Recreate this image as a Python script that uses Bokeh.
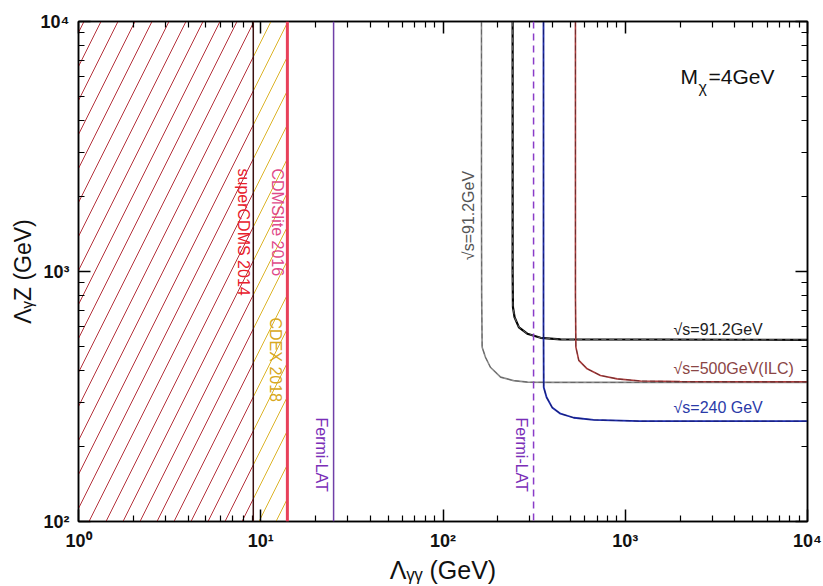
import math
from bokeh.plotting import figure
from bokeh.models import LogAxis, Range1d, FixedTicker, Span
from bokeh.embed import file_html
from bokeh.resources import INLINE
from bokeh.core.properties import value

# ---------------- data ----------------
x_ticks = [1, 10, 100, 1000, 10000]
x_tick_labels = ["10\u2070", "10\u00b9", "10\u00b2", "10\u00b3", "10\u2074"]
y_ticks = [100, 1000, 10000]
y_tick_labels = ["10\u00b2", "10\u00b3", "10\u2074"]
x_title = "\u039b\u1d67\u1d67 (GeV)"
y_title = "\u039b\u1d67Z (GeV)"

# direct-detection / indirect limits on Lambda_gg (GeV)
supercdms_2014 = 9.1
cdex_2018 = 14.0
cdmslite_2016 = 14.0
fermi_lat = 25.1
fermi_lat_proj = 314.0

# collider sensitivity curves (Lambda_gg, Lambda_gZ)
gray_x = [162.6, 162.6, 163.0, 164.0, 171.0, 182.0, 207.0, 244.0, 291.0, 400.0, 10000.0]
gray_y = [10000.0, 2000.0, 800.0, 498.0, 454.0, 414.0, 378.0, 366.0, 361.0, 360.0, 360.0]

black_x = [241.0, 241.0, 242.0, 247.0, 261.0, 290.0, 343.0, 441.0, 10000.0]
black_y = [10000.0, 1000.0, 720.0, 656.0, 598.0, 564.0, 543.0, 535.0, 533.0]

red_x = [533.0, 533.0, 536.0, 556.0, 618.0, 731.0, 903.0, 1213.0, 2000.0, 10000.0]
red_y = [10000.0, 800.0, 498.0, 441.0, 408.0, 384.0, 372.0, 365.0, 363.0, 362.0]

blue_x = [356.0, 356.0, 357.0, 370.0, 397.0, 441.0, 522.0, 670.0, 1200.0, 10000.0]
blue_y = [10000.0, 600.0, 344.0, 314.0, 286.0, 270.0, 260.0, 255.0, 252.0, 252.0]

# ---------------- layout ----------------
W, H = 823, 586
FL, FR, FT, FB = 78, 807, 21, 521
XMIN, XMAX, YMIN, YMAX = 1.0, 1e4, 100.0, 1e4


def dx(px):
    return 10 ** (math.log10(XMIN) + (px - FL) / (FR - FL) * (math.log10(XMAX) - math.log10(XMIN)))


def dy(py):
    return 10 ** (math.log10(YMAX) - (py - FT) / (FB - FT) * (math.log10(YMAX) - math.log10(YMIN)))


SANS = "Liberation Sans"

p = figure(width=W, height=H, x_axis_type="log", y_axis_type="log",
           x_range=Range1d(XMIN, XMAX), y_range=Range1d(YMIN, YMAX),
           output_backend="svg", toolbar_location=None,
           min_border_left=FL, min_border_right=W - FR,
           min_border_top=FT, min_border_bottom=H - FB)
p.xgrid.visible = False
p.ygrid.visible = False
p.outline_line_color = "black"
p.outline_line_width = 1.5
p.background_fill_color = "white"
p.border_fill_color = "white"

xminor = [m * d for d in x_ticks[:-1] for m in range(2, 10)]
yminor = [m * d for d in y_ticks[:-1] for m in range(2, 10)]


def style_axis(ax, ticks, minor, labels, show):
    ax.ticker = FixedTicker(ticks=ticks, minor_ticks=minor)
    ax.major_tick_in = 12
    ax.major_tick_out = 0
    ax.minor_tick_in = 6
    ax.minor_tick_out = 0
    ax.axis_line_color = "black"
    ax.axis_line_width = 1.5
    ax.major_tick_line_width = 1.5
    ax.minor_tick_line_width = 1.2
    ax.major_label_overrides = {t: l for t, l in zip(ticks, labels)}
    ax.major_label_text_font = SANS
    if show:
        ax.major_label_text_font_size = "18px"
        ax.major_label_text_font_style = "bold"
        ax.major_label_text_color = "#111111"
        ax.major_label_standoff = 9
        ax.axis_label_text_font = SANS
        ax.axis_label_text_font_size = "25px"
        ax.axis_label_text_font_style = "normal"
        ax.axis_label_text_color = "#111111"
    else:
        ax.major_label_text_font_size = "2px"
        ax.major_label_text_color = None
        ax.major_label_standoff = 0


style_axis(p.xaxis[0], x_ticks, xminor, x_tick_labels, True)
style_axis(p.yaxis[0], y_ticks, yminor, y_tick_labels, True)
p.xaxis[0].axis_label = x_title
p.xaxis[0].axis_label_standoff = 2
p.yaxis[0].axis_label = y_title
p.yaxis[0].axis_label_standoff = 2
p.yaxis[0].axis_label_text_font_size = "23px"
top_ax = LogAxis()
right_ax = LogAxis()
style_axis(top_ax, x_ticks, xminor, x_tick_labels, False)
style_axis(right_ax, y_ticks, yminor, y_tick_labels, False)
p.add_layout(top_ax, "above")
p.add_layout(right_ax, "right")

# ---------------- exclusion regions ----------------
p.quad(left=[XMIN], right=[supercdms_2014], bottom=[YMIN], top=[YMAX],
       fill_color=None, line_color=None, hatch_pattern="/",
       hatch_color="#b5323c", hatch_weight=1, hatch_scale=34)
p.quad(left=[supercdms_2014], right=[cdex_2018], bottom=[YMIN], top=[YMAX],
       fill_color=None, line_color=None, hatch_pattern="/",
       hatch_color="#dcb42a", hatch_weight=1, hatch_scale=34)

p.add_layout(Span(location=supercdms_2014, dimension="height", line_color="#3a1010", line_width=1.5))
p.add_layout(Span(location=cdmslite_2016, dimension="height", line_color="#e8405a", line_width=3))
p.add_layout(Span(location=fermi_lat, dimension="height", line_color="#7040a8", line_width=1.5))
p.add_layout(Span(location=fermi_lat_proj, dimension="height", line_color="#8a3cc8",
                  line_width=1.5, line_dash="7 5"))

# ---------------- collider curves ----------------
p.line(gray_x, gray_y, line_color="#8a8a8a", line_width=1.6)
p.line(gray_x, gray_y, line_color="#555555", line_width=1.0, line_dash="5 3", line_alpha=0.7)
p.line(black_x, black_y, line_color="#000000", line_width=2.2)
p.line(black_x, black_y, line_color="#777777", line_width=1.0, line_dash="5 3", line_alpha=0.8)
p.line(red_x, red_y, line_color="#a83a3a", line_width=1.6)
p.line(red_x, red_y, line_color="#3a2020", line_width=1.0, line_dash="5 3", line_alpha=0.5)
p.line(blue_x, blue_y, line_color="#1c2aa8", line_width=1.8)
p.line(blue_x, blue_y, line_color="#101040", line_width=1.0, line_dash="5 3", line_alpha=0.5)

# ---------------- in-plot texts ----------------
def vtext(px, py, txt, color, size="16px", angle=-math.pi / 2, align="left"):
    p.text(x=[dx(px)], y=[dy(py)], text=[txt], angle=angle,
           text_font=value(SANS), text_font_size=size, text_color=color,
           text_align=align, text_baseline="middle")


vtext(243, 168, "superCDMS 2014", "#e8202c")
vtext(277, 168, "CDMSlite 2016", "#e04a8a")
vtext(275, 317, "CDEX 2018", "#d8a821")
vtext(321, 417, "Fermi-LAT", "#7a2eb8")
vtext(521, 417, "Fermi-LAT", "#7a2eb8")
vtext(468, 215, "\u221as=91.2GeV", "#555555", angle=math.pi / 2, align="center")


def htext(px, py, txt, color, size="16px", font=SANS, style="normal"):
    p.text(x=[dx(px)], y=[dy(py)], text=[txt], text_font=value(font),
           text_font_size=size, text_color=color, text_font_style=style,
           text_align="left", text_baseline="middle")


htext(673, 329, "\u221as=91.2GeV", "#222222")
htext(673, 368, "\u221as=500GeV(ILC)", "#8b4545")
htext(673, 407, "\u221as=240 GeV", "#2a3aa8")

htext(680, 76, "M", "#111111", size="21px")
htext(698, 87, "\u03c7", "#111111", size="16px")
htext(708, 76, "=4GeV", "#111111", size="21px")

open("out.html", "w").write(file_html(p, INLINE))
